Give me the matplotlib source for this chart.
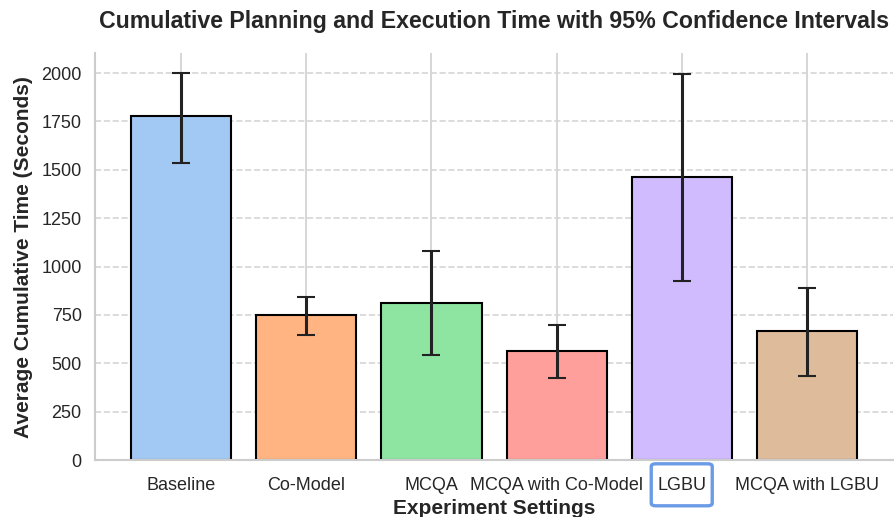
import matplotlib
matplotlib.use("Agg")
import matplotlib.pyplot as plt
import seaborn as sns
from matplotlib.patches import FancyBboxPatch

# ---------------- DATA ----------------
settings = ["Baseline", "Co-Model", "MCQA", "MCQA with Co-Model", "LGBU", "MCQA with LGBU"]
mean_time = [1776, 750, 814, 565, 1464, 666]
ci_low = [1535, 647, 542, 423, 926, 436]
ci_high = [2002, 845, 1080, 700, 1995, 891]

highlight = "LGBU"

# ---------------- STYLE ----------------
sns.set_theme(style="whitegrid")
plt.rcParams["font.family"] = ["Liberation Sans", "DejaVu Sans"]
colors = sns.color_palette("pastel", len(settings))

fig = plt.figure(figsize=(8.95, 5.17), dpi=100)
ax = fig.add_axes([0.106, 0.110, 0.892, 0.787])

x = list(range(len(settings)))
yerr = [
    [m - lo for m, lo in zip(mean_time, ci_low)],
    [hi - m for m, hi in zip(mean_time, ci_high)],
]

ax.bar(x, mean_time, width=0.8, color=colors, edgecolor="black", linewidth=1.5, zorder=2)
ax.errorbar(x, mean_time, yerr=yerr, fmt="none", ecolor="#222222",
            elinewidth=2.2, capsize=6.5, capthick=1.5, zorder=3)

ax.set_xticks(x)
ax.set_xticklabels(settings, fontsize=13, color="#262626")
ax.set_yticks(range(0, 2001, 250))
ax.tick_params(axis="y", labelsize=13, labelcolor="#262626")
ax.tick_params(axis="x", pad=6)

ax.yaxis.grid(True, linestyle="--", linewidth=1.2, color="#d5d5d5")
ax.xaxis.grid(True, linestyle="-", linewidth=1.2, color="#d0d0d0")
ax.set_axisbelow(True)

sns.despine(ax=ax)
for side in ["left", "bottom"]:
    ax.spines[side].set_color("#cccccc")
    ax.spines[side].set_linewidth(1.5)

ax.set_title("Cumulative Planning and Execution Time with 95% Confidence Intervals",
             fontsize=16.7, fontweight="bold", color="#262626", pad=18)
ax.set_xlabel("Experiment Settings", fontsize=15, fontweight="bold", color="#262626", labelpad=4)
ax.set_ylabel("Average Cumulative Time (Seconds)", fontsize=15, fontweight="bold", color="#262626",
              labelpad=6)

# box round the highlighted tick label
fig.canvas.draw()
for lbl in ax.get_xticklabels():
    if lbl.get_text() == highlight:
        bb = lbl.get_window_extent()
        x0, y0 = bb.x0 - 6, bb.y0 - 12
        x1, y1 = bb.x1 + 6, bb.y1 + 13
        inv = fig.transFigure.inverted()
        (fx0, fy0), (fx1, fy1) = inv.transform([(x0, y0), (x1, y1)])
        box = FancyBboxPatch((fx0, fy0), fx1 - fx0, fy1 - fy0,
                             boxstyle="round,pad=0,rounding_size=0.005",
                             transform=fig.transFigure, fill=False,
                             edgecolor="#6a9be6", linewidth=2.4)
        fig.patches.append(box)

fig.savefig("out.png", dpi=100)
plt.close(fig)
